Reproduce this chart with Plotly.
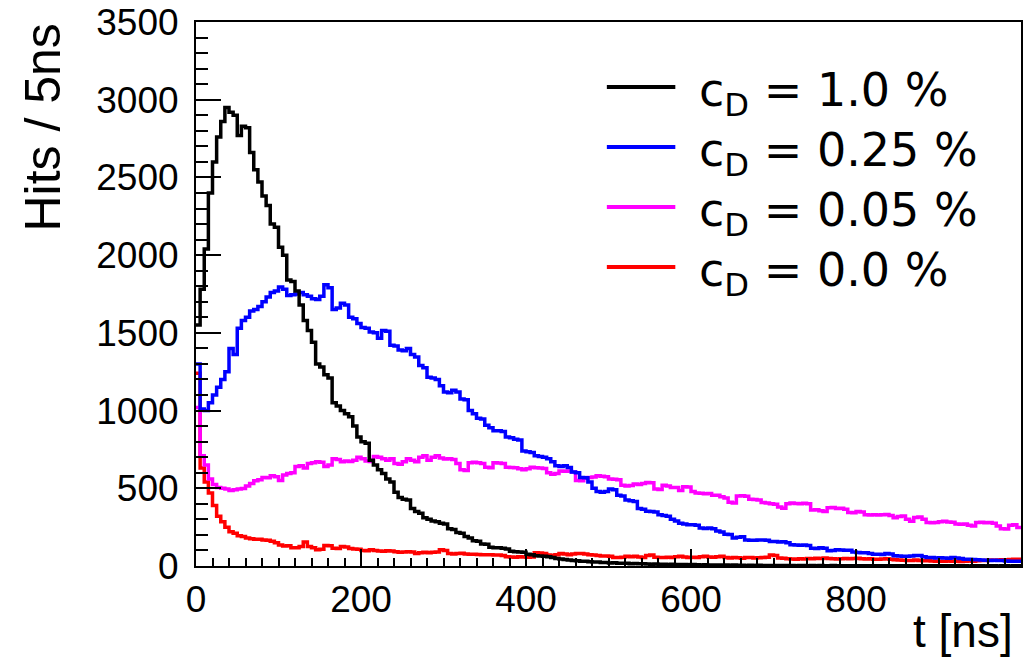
import plotly.graph_objects as go

# ---- data: hits per 5 ns bin, t from 0 to 1000 ns (200 bins) ----
BIN_WIDTH = 5
T_MIN = 0

labels = ["c<sub>D</sub> = 1.0 %", "c<sub>D</sub> = 0.25 %",
          "c<sub>D</sub> = 0.05 %", "c<sub>D</sub> = 0.0 %"]
colors = ["#000000", "#0000ff", "#ff00ff", "#ff0000"]

x_tick_vals = [0, 200, 400, 600, 800]
x_tick_text = ["0", "200", "400", "600", "800"]

cd_1p0 = [
    1550, 1780, 2040, 2400, 2600, 2760, 2860, 2950, 2920, 2900,
    2770, 2830, 2820, 2660, 2550, 2470, 2380, 2320, 2200, 2180,
    2050, 2000, 1840, 1830, 1770,
    1680, 1580, 1515, 1440, 1300, 1280, 1230, 1210, 1050, 1030,
    1000, 980, 960, 900, 830, 800, 790, 680, 650, 620,
    595, 560, 540, 475, 440, 430, 425, 370, 350, 340,
    310, 300,
    290, 285, 275, 270, 240, 235, 215, 210, 190, 180,
    162, 160, 142, 140, 120, 118, 118, 115, 110, 95,
    92, 90, 88, 75, 72, 66, 64, 62, 60, 55,
    48, 45, 42,
    38, 36, 34, 30, 31, 27, 26, 25, 22, 23,
    20, 21, 18, 17, 18, 15, 16, 14, 15, 13,
    12, 13, 11, 12, 10, 11, 9, 10, 9, 8,
    9, 8, 7, 8, 7, 6, 7, 6, 6, 5,
    6, 5, 5, 4, 5, 4, 5, 4, 4, 3,
    4, 3, 4, 3, 3, 2, 3, 3, 2, 3,
    2, 3, 2, 2, 3, 2, 2, 2, 1, 2,
    2, 1, 2, 2, 1, 2, 1, 1, 2, 1,
    1, 2, 1, 1, 1, 2, 1, 1, 1, 1,
    1, 1, 2, 1, 1, 1, 1, 0, 1, 1,
    1, 0, 1, 1, 0, 1, 1, 0, 1, 1,
]

cd_0p25 = [
    1300, 1010, 1000, 1050, 1100, 1150, 1200, 1250, 1400, 1360,
    1530, 1580, 1600, 1640, 1650, 1670, 1700, 1730, 1760, 1770,
    1795, 1780, 1740, 1745, 1750,
    1760, 1745, 1735, 1720, 1715, 1735, 1810, 1790, 1650, 1660,
    1690, 1680, 1600, 1590, 1560, 1535, 1530, 1505, 1500, 1465,
    1515, 1510, 1420, 1415, 1390, 1385, 1400, 1360, 1345, 1290,
    1275, 1215,
    1210, 1200, 1160, 1120, 1115, 1130, 1120, 1075, 1070, 1000,
    980, 950, 945, 905, 890, 870, 870, 865, 830, 825,
    815, 810, 740, 735, 730, 710, 705, 700, 690, 670,
    645, 640, 645,
    634, 605, 600, 570, 568, 540, 500, 480, 475, 480,
    495, 490, 455, 450, 425, 420, 415, 370, 365, 352,
    350, 348, 330, 325, 320, 300, 290, 275, 270, 265,
    265, 262, 245, 242, 245, 240, 225, 218,
    205, 203, 180, 185, 188, 168, 166, 165, 168, 167,
    166, 158, 157, 155, 156, 150, 137, 135, 134, 135,
    132, 115, 113, 117, 114, 98, 100, 104, 103, 102,
    101, 90, 87, 86, 85, 80,
    76, 75, 74, 80, 78, 66, 64, 63, 62, 64,
    68, 67, 60, 55, 54, 52, 53, 52, 50, 54,
    52, 48, 44, 43, 42, 40, 38, 37, 36, 37,
    36, 35, 32, 31, 30, 30,
]

cd_0p05 = [
    1020, 710, 650, 560, 525, 505, 500, 495, 485, 490,
    495, 498, 515, 530, 548, 555, 570, 568, 580, 575,
    550, 585, 595,
    600, 640, 645, 630, 660, 665, 670, 668, 640, 650,
    690, 685, 670, 675, 672, 680, 700, 690, 675, 672,
    705, 700, 690, 680, 690, 660, 655, 670, 690, 680,
    670, 700, 710, 680,
    700, 710, 695, 688, 690, 685, 660, 620, 615, 665,
    668, 665, 660, 635, 632, 665, 662, 660, 635, 634,
    632, 625, 620, 625, 635, 632, 630, 628, 600, 590,
    595, 612, 610,
    612, 605, 550, 548, 565, 570, 572, 580, 578, 575,
    560, 558, 555, 520, 515, 518, 527, 525, 530, 537,
    535, 495, 492, 520, 515, 505, 505, 485, 510, 508,
    480, 470, 468, 465, 466, 455, 455, 445,
    438, 410, 405, 450, 452, 448, 430, 428, 425, 408,
    405, 400, 398, 380, 372, 400, 405, 402, 400, 403,
    400, 360, 362, 355, 350, 375, 376, 370, 372, 365,
    345, 342, 350, 348, 330, 328,
    330, 328, 330, 332, 325, 310, 318, 322, 300, 288,
    312, 315, 300, 280, 278, 280, 285, 288, 283, 282,
    270, 268, 270, 262, 258, 280, 282, 278, 280, 275,
    258, 240, 238, 262, 265, 248,
]

cd_0p0 = [
    1240, 630, 540, 470, 390, 320, 285, 250, 220, 210,
    195, 190, 180, 175, 172, 172, 168, 165, 160, 150,
    135, 128, 130,
    118, 118, 125, 155, 125, 118, 105, 108, 132, 130,
    115, 113, 125, 122, 112, 110, 108, 100, 98, 104,
    100, 96, 95, 98, 96, 92, 88, 90, 92, 90,
    80, 86, 88, 85,
    88, 90, 105, 100, 80, 78, 80, 82, 78, 76,
    75, 74, 73, 72, 73, 70, 71, 68, 60, 58,
    57, 60, 58, 56, 58, 85, 83, 80, 70, 68,
    72, 80, 78,
    72, 78, 80, 80, 78, 72, 70, 68, 64, 65,
    62, 55, 54, 56, 62, 60, 62, 58, 55, 68,
    70, 56, 55, 54, 56, 55, 60, 62, 58, 55,
    56, 54, 60, 62, 58, 56, 60, 62,
    54, 52, 55, 53, 50, 54, 55, 52, 53, 55,
    56, 70, 68, 52, 50, 46, 45, 44, 46, 45,
    48, 47, 50, 49, 52, 48, 47, 45, 46, 48,
    47, 49, 50, 47, 45, 46,
    44, 43, 45, 46, 44, 40, 38, 37, 36, 35,
    38, 36, 34, 33, 32, 30, 31, 30, 32, 31,
    30, 29, 30, 32, 31, 33, 35, 36, 38, 37,
    39, 40, 41, 42, 43, 43,
]

series = [cd_1p0, cd_0p25, cd_0p05, cd_0p0]
for s in series:
    assert len(s) == 200, len(s)

n_bins = len(cd_1p0)
edges = [T_MIN + BIN_WIDTH * k for k in range(n_bins + 1)]

fig = go.Figure()
# draw lowest-priority first so black ends up on top
for idx in [3, 2, 1, 0]:
    vals = series[idx]
    fig.add_trace(go.Scatter(
        x=edges, y=vals + [vals[-1]],
        mode="lines", line=dict(shape="hv", color=colors[idx], width=3.5),
        name=labels[idx], showlegend=False,
    ))

# ---- legend drawn as line samples + text (ROOT-like, no frame) ----
leg_x0, leg_x1, leg_tx = 0.498, 0.581, 0.607
leg_rows = [0.8805, 0.7702, 0.6599, 0.5496]
shapes = []
annotations = []
for idx in range(4):
    shapes.append(dict(type="line", xref="paper", yref="paper",
                       x0=leg_x0, x1=leg_x1, y0=leg_rows[idx], y1=leg_rows[idx],
                       line=dict(color=colors[idx], width=4)))
    annotations.append(dict(text=labels[idx], xref="paper", yref="paper",
                            x=leg_tx, y=leg_rows[idx] - 0.012,
                            xanchor="left", yanchor="middle", showarrow=False,
                            font=dict(family="DejaVu Sans, sans-serif", size=46,
                                      color="black")))

annotations += [
    dict(text="t [ns]", xref="paper", yref="paper", x=0.993, y=-0.12,
         xanchor="right", yanchor="middle", showarrow=False,
         font=dict(family="Liberation Sans, Arial, sans-serif", size=46, color="black")),
    dict(text="Hits / 5ns", xref="paper", yref="paper", x=-0.186, y=1.0,
         xanchor="center", yanchor="top", textangle=-90, showarrow=False,
         font=dict(family="Liberation Sans, Arial, sans-serif", size=50, color="black")),
]

tick_font = dict(family="Liberation Sans, Arial, sans-serif", size=37, color="black")

fig.update_layout(
    width=1023, height=667,
    paper_bgcolor="white", plot_bgcolor="white",
    margin=dict(l=196, r=2, t=22, b=101),
    showlegend=False,
    xaxis=dict(
        range=[0, 1000], tickvals=x_tick_vals, ticktext=x_tick_text,
        ticks="inside", ticklen=17, tickwidth=2, tickcolor="black",
        minor=dict(dtick=20, tick0=0, ticks="inside", ticklen=8,
                   tickwidth=2, tickcolor="black"),
        showline=True, mirror=True, linewidth=2, linecolor="black",
        showgrid=False, zeroline=False, tickfont=tick_font,
        automargin=False,
    ),
    xaxis2=dict(
        overlaying="x", anchor="y", side="bottom", range=[0, 1000],
        dtick=100, tick0=0, ticks="inside", ticklen=17, tickwidth=2,
        tickcolor="black", showticklabels=False, showline=False,
        showgrid=False, zeroline=False, automargin=False,
    ),
    yaxis=dict(
        range=[0, 3500], dtick=500, tick0=0,
        ticks="inside", ticklen=25, tickwidth=2, tickcolor="black",
        minor=dict(dtick=100, tick0=0, ticks="inside", ticklen=12,
                   tickwidth=2, tickcolor="black"),
        showline=True, mirror=True, linewidth=2, linecolor="black",
        showgrid=False, zeroline=False, tickfont=tick_font,
        ticklabelstandoff=8, automargin=False,
    ),
    shapes=shapes,
    annotations=annotations,
)

fig.write_html(
    "out.html",
    config={"displayModeBar": False},
    post_script="document.body.style.margin='0';document.body.style.overflow='hidden';",
)
